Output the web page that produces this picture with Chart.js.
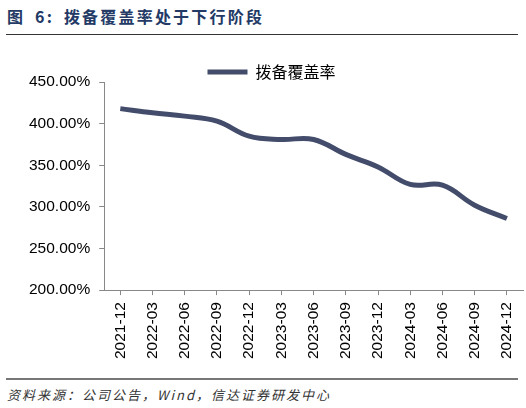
<!DOCTYPE html>
<html>
<head>
<meta charset="utf-8">
<script src="https://cdn.jsdelivr.net/npm/chart.js@4/dist/chart.umd.min.js"></script>
<style>
  body { margin: 0; width: 526px; height: 408px; background: #fff; position: relative; overflow: hidden; }
  .title { position: absolute; left: 7px; top: 4px; font-family: "Noto Sans CJK SC"; font-weight: bold; font-size: 16px; letter-spacing: 2.2px; word-spacing: 4px; color: #233a66; white-space: nowrap; }
  .rule-top { position: absolute; left: 6px; top: 34px; width: 512px; height: 1px; background: #333; }
  .rule-bottom { position: absolute; left: 6px; top: 378px; width: 512px; height: 2px; background: #777; }
  .source { position: absolute; left: 7px; top: 385px; font-family: "Noto Sans CJK SC"; font-style: italic; font-size: 13px; letter-spacing: 2px; color: #333; white-space: nowrap; }
  .wrap { position: absolute; left: 0; top: 62px; width: 526px; height: 304px; }
</style>
</head>
<body>
<div class="title">图 6: 拨备覆盖率处于下行阶段</div>
<div class="rule-top"></div>
<div class="wrap"><canvas id="chart"></canvas></div>
<div class="rule-bottom"></div>
<div class="source">资料来源：公司公告，Wind，信达证券研发中心</div>
<script>
// quarterly provision coverage ratio, %
const quarters = ["2021-12", "2022-03", "2022-06", "2022-09", "2022-12", "2023-03", "2023-06",
    "2023-09", "2023-12", "2024-03", "2024-06", "2024-09", "2024-12"];
const coverage = [418, 413, 409, 403, 385, 381, 381, 363, 348, 327, 326, 302, 286];
const seriesName = "拨备覆盖率";
const yTicks = [200, 250, 300, 350, 400, 450];

const axisColor = "#888";
const lineColor = "#434d6b";

// legend sits closer to the plot than chart.js leaves by default
const legendTrim = {
    id: "legendTrim",
    beforeLayout(chart) {
        const legend = chart.legend;
        if (legend && !legend._trimmed) {
            const fit = legend.fit;
            legend.fit = function () {
                fit.call(this);
                this.height -= 8;
            };
            legend._trimmed = true;
        }
    }
};

new Chart(document.getElementById("chart"), {
    type: "line",
    data: {
        labels: quarters,
        datasets: [{
            label: seriesName,
            data: coverage,
            borderColor: lineColor,
            backgroundColor: lineColor,
            borderWidth: 5,
            pointRadius: 0,
            tension: 0.4,
            fill: false
        }]
    },
    options: {
        responsive: true,
        maintainAspectRatio: false,
        animation: false,
        layout: { padding: { top: 0, right: 3, left: 20, bottom: 0 } },
        plugins: {
            tooltip: { enabled: false },
            legend: {
                display: true,
                position: "top",
                labels: {
                    usePointStyle: true,
                    pointStyle: "line",
                    pointStyleWidth: 40,
                    color: "#000",
                    font: { family: "Noto Sans CJK SC", size: 16 },
                    padding: 2
                }
            }
        },
        scales: {
            x: {
                offset: true,
                afterFit: s => { s.paddingRight = 3; },
                grid: { drawOnChartArea: false, drawTicks: true, tickLength: 5, color: axisColor },
                border: { display: true, color: axisColor },
                ticks: {
                    minRotation: 90,
                    maxRotation: 90,
                    color: "#000",
                    padding: 7,
                    font: { family: "Liberation Sans", size: 15.5 }
                }
            },
            y: {
                min: 200,
                max: 450,
                afterBuildTicks: axis => { axis.ticks = yTicks.map(v => ({ value: v })); },
                grid: { drawOnChartArea: false, drawTicks: true, tickLength: 5, color: axisColor },
                border: { display: true, color: axisColor },
                ticks: {
                    color: "#000",
                    padding: 9,
                    font: { family: "Liberation Sans", size: 15.5 },
                    callback: v => v.toFixed(2) + "%"
                }
            }
        }
    },
    plugins: [legendTrim]
});
</script>
</body>
</html>
